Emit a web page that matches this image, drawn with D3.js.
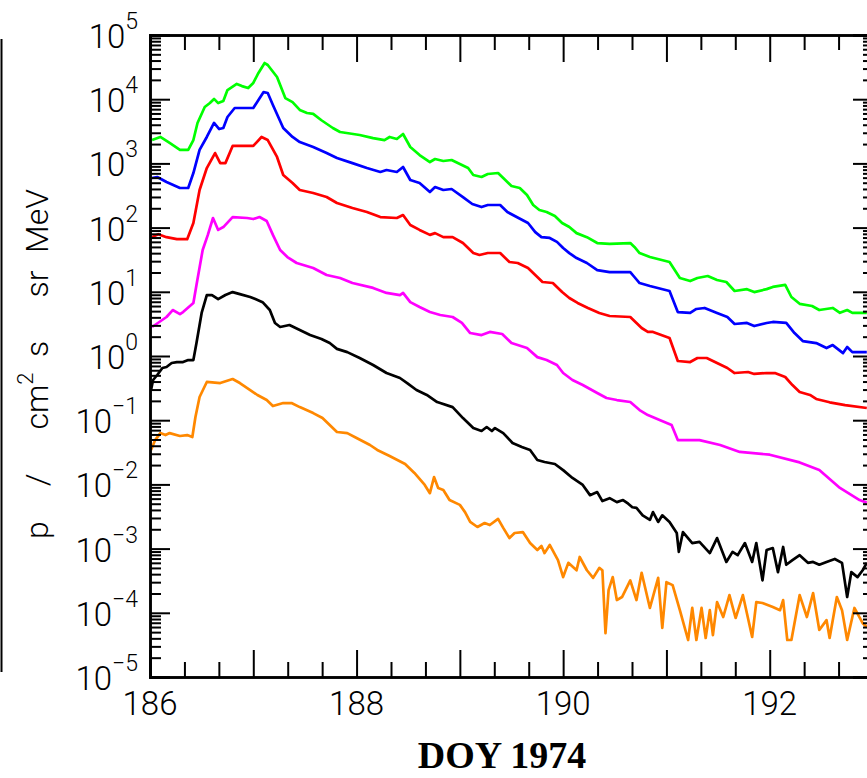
<!DOCTYPE html>
<html>
<head>
<meta charset="utf-8">
<script src="https://cdn.jsdelivr.net/npm/d3@7"></script>
<style>
  html, body { margin: 0; padding: 0; background: #fff; }
  svg { display: block; }
</style>
</head>
<body>
<svg id="chart" width="867" height="778"></svg>
<script>
// ---------------- DATA (DOY 1974, flux p/(cm2 s sr MeV)) ----------------
const xTickLabels = [186, 188, 190, 192];
const yTickExponents = [5, 4, 3, 2, 1, 0, -1, -2, -3, -4, -5];
const seriesColors = ["#00ff00", "#0000ff", "#ff0000", "#ff00ff", "#000000", "#ff8800"];

const green = [[186.02,2310],[186.10,2580],[186.19,2080],[186.29,1620],[186.37,1620],[186.42,2310],[186.46,4260],[186.53,7550],[186.58,8730],[186.62,10100],[186.66,8700],[186.71,9400],[186.75,13900],[186.84,17300],[186.89,16000],[186.95,14900],[187.00,17900],[187.05,25600],[187.11,36600],[187.14,34100],[187.23,22200],[187.31,10400],[187.38,9000],[187.45,6800],[187.52,6100],[187.58,5900],[187.66,4700],[187.77,3560],[187.84,3080],[188.03,2770],[188.16,2480],[188.27,2310],[188.32,2580],[188.39,2400],[188.45,2870],[188.52,1800],[188.61,1350],[188.71,1050],[188.76,1170],[188.84,1090],[188.92,1130],[189.02,944],[189.08,847],[189.13,659],[189.21,614],[189.27,684],[189.37,708],[189.42,592],[189.50,445],[189.58,414],[189.65,322],[189.71,225],[189.77,188],[189.84,175],[189.92,152],[189.99,118],[190.06,102],[190.13,82],[190.23,71],[190.33,57.5],[190.45,55.6],[190.65,57.5],[190.69,49.9],[190.74,40.2],[190.84,34.8],[191.03,29.1],[191.13,16.4],[191.23,14.7],[191.30,16.4],[191.40,17.6],[191.49,15.3],[191.58,14.2],[191.66,10.3],[191.78,11.0],[191.85,9.9],[191.97,11.0],[192.03,11.9],[192.15,12.8],[192.21,8.3],[192.29,6.5],[192.41,6.0],[192.48,5.2],[192.61,5.6],[192.68,4.7],[192.75,5.2],[192.80,4.7],[192.94,4.7]];

const blue = [[186.02,592],[186.07,614],[186.16,513],[186.29,414],[186.37,414],[186.42,708],[186.48,1620],[186.55,2580],[186.62,4260],[186.67,3430],[186.71,3560],[186.75,5280],[186.82,7300],[187.00,7300],[187.05,9700],[187.10,12900],[187.14,12500],[187.19,8100],[187.29,3560],[187.38,2580],[187.45,2150],[187.58,1800],[187.71,1450],[187.81,1210],[187.96,1010],[188.10,847],[188.23,735],[188.29,789],[188.39,735],[188.45,879],[188.52,551],[188.61,495],[188.71,358],[188.76,429],[188.84,385],[188.92,399],[189.03,299],[189.12,233],[189.21,209],[189.27,225],[189.39,225],[189.46,175],[189.55,146],[189.66,118],[189.73,85],[189.79,71],[189.87,69],[189.94,60],[190.00,48],[190.06,40],[190.13,33.6],[190.23,28.1],[190.33,21.8],[190.45,20.3],[190.65,20.3],[190.69,17.0],[190.74,13.7],[190.84,12.3],[191.03,10.3],[191.11,4.84],[191.23,4.68],[191.29,5.4],[191.37,5.6],[191.49,4.68],[191.59,4.05],[191.66,3.15],[191.78,3.27],[191.85,2.93],[191.97,3.27],[192.03,3.39],[192.16,3.27],[192.24,2.28],[192.32,1.71],[192.45,1.59],[192.55,1.33],[192.61,1.48],[192.71,1.11],[192.75,1.38],[192.80,1.15],[192.94,1.15]];

const red = [[186.02,71],[186.08,79],[186.16,71],[186.26,66],[186.36,66],[186.42,118],[186.48,385],[186.55,847],[186.63,1450],[186.68,1010],[186.73,1010],[186.80,1870],[187.00,1870],[187.08,2580],[187.14,2310],[187.23,1260],[187.29,659],[187.38,495],[187.45,385],[187.58,346],[187.71,300],[187.81,242],[187.96,202],[188.10,175],[188.23,146],[188.39,141],[188.45,157],[188.52,110],[188.61,92],[188.71,77],[188.76,82],[188.84,71],[188.93,71],[189.03,57.5],[189.13,40.2],[189.19,37.4],[189.27,40.2],[189.39,40.2],[189.48,29.1],[189.56,28.1],[189.66,23.5],[189.75,17.0],[189.80,14.2],[189.90,13.7],[189.99,9.9],[190.06,8.0],[190.14,6.7],[190.24,5.6],[190.35,4.68],[190.45,4.2],[190.65,4.05],[190.71,3.27],[190.76,2.73],[190.82,2.37],[190.87,2.37],[191.03,1.91],[191.11,0.835],[191.23,0.805],[191.30,0.93],[191.39,0.93],[191.49,0.778],[191.59,0.65],[191.66,0.543],[191.79,0.563],[191.85,0.525],[191.97,0.543],[192.05,0.543],[192.15,0.471],[192.22,0.353],[192.29,0.275],[192.39,0.247],[192.45,0.214],[192.58,0.19],[192.73,0.172],[192.94,0.155]];

const magenta = [[186.02,2.83],[186.16,4.05],[186.22,5.2],[186.29,4.5],[186.32,4.84],[186.42,6.7],[186.45,12.8],[186.51,44.8],[186.56,77],[186.61,141],[186.66,92],[186.71,102],[186.80,146],[186.94,141],[187.00,136],[187.06,146],[187.13,127],[187.19,77],[187.26,44.8],[187.33,34.8],[187.42,28.1],[187.58,23.5],[187.71,18.3],[187.84,16.4],[187.96,13.7],[188.16,11.5],[188.29,9.6],[188.42,8.9],[188.45,9.6],[188.52,6.9],[188.61,5.8],[188.71,4.84],[188.81,4.35],[188.93,4.05],[189.02,3.27],[189.10,2.28],[189.21,2.12],[189.29,2.37],[189.41,2.2],[189.50,1.59],[189.65,1.33],[189.75,0.96],[189.84,0.865],[189.94,0.724],[190.00,0.543],[190.09,0.423],[190.19,0.353],[190.33,0.265],[190.42,0.222],[190.52,0.206],[190.65,0.192],[190.74,0.144],[190.82,0.12],[190.94,0.1],[191.05,0.084],[191.11,0.049],[191.32,0.049],[191.52,0.041],[191.71,0.032],[192.00,0.029],[192.29,0.022],[192.48,0.0167],[192.68,0.0088],[192.87,0.0057],[192.94,0.0052]];

const black = [[186.01,0.295],[186.03,0.423],[186.07,0.506],[186.12,0.65],[186.16,0.674],[186.21,0.778],[186.26,0.805],[186.32,0.805],[186.37,0.865],[186.42,0.865],[186.45,1.59],[186.50,4.68],[186.55,8.9],[186.60,8.9],[186.66,7.7],[186.73,8.9],[186.80,9.9],[186.87,9.2],[186.97,8.3],[187.02,7.7],[187.09,6.9],[187.16,5.2],[187.21,3.27],[187.26,2.83],[187.35,3.04],[187.45,2.54],[187.55,2.12],[187.66,1.84],[187.74,1.59],[187.81,1.29],[187.91,1.15],[188.03,0.93],[188.16,0.724],[188.29,0.543],[188.42,0.454],[188.49,0.379],[188.58,0.295],[188.68,0.247],[188.78,0.192],[188.81,0.185],[188.93,0.16],[189.03,0.108],[189.13,0.0755],[189.21,0.0679],[189.26,0.0783],[189.31,0.0679],[189.34,0.0755],[189.42,0.063],[189.51,0.0442],[189.60,0.0383],[189.68,0.0344],[189.75,0.024],[189.82,0.0223],[189.92,0.0208],[190.00,0.0167],[190.09,0.0126],[190.19,0.0098],[190.26,0.0068],[190.33,0.0076],[190.38,0.0055],[190.45,0.0061],[190.52,0.0053],[190.58,0.0057],[190.63,0.0050],[190.67,0.0044],[190.71,0.0043],[190.77,0.0033],[190.84,0.0028],[190.87,0.0037],[190.92,0.0026],[190.96,0.0033],[191.03,0.0026],[191.10,0.00175],[191.12,0.00089],[191.16,0.00181],[191.25,0.00122],[191.32,0.00127],[191.42,0.00085],[191.49,0.00146],[191.58,0.00062],[191.64,0.00089],[191.69,0.00079],[191.76,0.00122],[191.83,0.00062],[191.87,0.00122],[191.93,0.00032],[191.97,0.00095],[192.03,0.00102],[192.08,0.00043],[192.13,0.00106],[192.16,0.00056],[192.22,0.00066],[192.29,0.00079],[192.37,0.0006],[192.42,0.00062],[192.48,0.00056],[192.55,0.00062],[192.63,0.00069],[192.70,0.0006],[192.75,0.000176],[192.79,0.00043],[192.85,0.00036],[192.90,0.00046],[192.94,0.0006]];

const orange = [[186.01,0.0344],[186.05,0.049],[186.10,0.063],[186.15,0.0587],[186.19,0.063],[186.29,0.0567],[186.36,0.0587],[186.41,0.0547],[186.44,0.112],[186.48,0.23],[186.55,0.394],[186.68,0.379],[186.77,0.423],[186.80,0.438],[186.87,0.379],[186.97,0.295],[187.04,0.247],[187.13,0.206],[187.19,0.166],[187.29,0.185],[187.37,0.185],[187.45,0.16],[187.58,0.129],[187.67,0.108],[187.74,0.084],[187.81,0.0655],[187.91,0.063],[188.00,0.0528],[188.13,0.0411],[188.20,0.0344],[188.32,0.0277],[188.47,0.0208],[188.56,0.0151],[188.66,0.0098],[188.71,0.0073],[188.75,0.013],[188.79,0.0088],[188.84,0.0082],[188.90,0.0057],[189.00,0.0048],[189.05,0.0037],[189.10,0.0026],[189.17,0.00217],[189.24,0.0025],[189.29,0.00233],[189.37,0.0029],[189.42,0.0021],[189.48,0.00146],[189.53,0.00175],[189.61,0.00181],[189.68,0.00122],[189.75,0.00095],[189.79,0.0011],[189.82,0.00085],[189.87,0.00114],[189.95,0.00066],[190.00,0.00036],[190.05,0.0006],[190.13,0.00046],[190.16,0.00074],[190.23,0.00046],[190.29,0.00035],[190.35,0.0005],[190.38,0.00046],[190.41,0.000048],[190.44,0.000226],[190.48,0.00036],[190.52,0.000158],[190.57,0.000176],[190.65,0.00032],[190.71,0.000158],[190.76,0.00042],[190.84,0.000119],[190.92,0.00035],[190.96,0.000058],[191.00,0.0003],[191.06,0.00027],[191.13,0.00011],[191.21,0.0000377],[191.25,0.000119],[191.29,0.0000377],[191.34,0.000119],[191.38,0.0000405],[191.42,0.00011],[191.45,0.000045],[191.49,0.000147],[191.55,0.000086],[191.61,0.000189],[191.67,0.000083],[191.74,0.000189],[191.83,0.000042],[191.87,0.000147],[191.93,0.000142],[192.03,0.000123],[192.10,0.00011],[192.13,0.000158],[192.17,0.0000377],[192.21,0.0000377],[192.29,0.000189],[192.36,0.000086],[192.42,0.000203],[192.48,0.000054],[192.55,0.000077],[192.58,0.0000405],[192.65,0.000176],[192.70,0.00011],[192.75,0.0000377],[192.82,0.000119],[192.90,0.000069],[192.94,0.00006]];

const seriesList = [green, blue, red, magenta, black, orange];

// ---------------- LAYOUT ----------------
const svg = d3.select("#chart");
const L = 150, R = 873, T = 35, B = 677;

const x = d3.scaleLinear().domain([186, 193]).range([L, R]);
const y = d3.scaleLog().domain([1e-5, 1e5]).range([B, T]);

const labelFont = "Roboto, 'Liberation Sans', Arial, sans-serif";
const labelWeight = 300;

// clip
svg.append("defs").append("clipPath").attr("id", "clip")
  .append("rect").attr("x", L).attr("y", T).attr("width", R - L).attr("height", B - T);

// lines
const line = d3.line().x(d => x(d[0])).y(d => y(d[1]));
svg.append("g").attr("clip-path", "url(#clip)")
  .selectAll("path").data(seriesList).join("path")
  .attr("d", line)
  .attr("fill", "none")
  .attr("stroke", (d, i) => seriesColors[i])
  .attr("stroke-width", 2.7)
  .attr("stroke-linejoin", "round");

// ---------------- AXES ----------------
const axisColor = "#000";
const xMinor = d3.range(0, 21).map(i => 186 + i / 3).filter(v => Math.abs(v - Math.round(v)) > 1e-6);
const xMajor = d3.range(186, 194);

function styleAxis(g) {
  g.selectAll("path.domain").attr("stroke", axisColor).attr("stroke-width", 2.5);
  g.selectAll(".tick line").attr("stroke", axisColor).attr("stroke-width", 2);
}
svg.append("g").attr("transform", `translate(0,${B})`)
  .call(d3.axisBottom(x).tickValues(xMajor).tickSize(-27).tickFormat("")).call(styleAxis);
svg.append("g").attr("transform", `translate(0,${B})`)
  .call(d3.axisBottom(x).tickValues(xMinor).tickSize(-15).tickFormat("")).call(styleAxis);
svg.append("g").attr("transform", `translate(0,${T})`)
  .call(d3.axisTop(x).tickValues(xMajor).tickSize(-27).tickFormat("")).call(styleAxis);
svg.append("g").attr("transform", `translate(0,${T})`)
  .call(d3.axisTop(x).tickValues(xMinor).tickSize(-15).tickFormat("")).call(styleAxis);

const yMajor = yTickExponents.map(e => Math.pow(10, e));
const yMinor = [];
for (let e = -5; e < 5; e++) for (let m = 2; m <= 9; m++) yMinor.push(m * Math.pow(10, e));

svg.append("g").attr("transform", `translate(${L},0)`)
  .call(d3.axisLeft(y).tickValues(yMajor).tickSize(-20).tickFormat("")).call(styleAxis);
svg.append("g").attr("transform", `translate(${L},0)`)
  .call(d3.axisLeft(y).tickValues(yMinor).tickSize(-11).tickFormat("")).call(styleAxis);
svg.append("g").attr("transform", `translate(${R},0)`)
  .call(d3.axisRight(y).tickValues(yMajor).tickSize(-20).tickFormat("")).call(styleAxis);
svg.append("g").attr("transform", `translate(${R},0)`)
  .call(d3.axisRight(y).tickValues(yMinor).tickSize(-10).tickFormat("")).call(styleAxis);

// x tick labels
svg.append("g").selectAll("text").data(xTickLabels).join("text")
  .attr("x", d => x(d)).attr("y", B + 38)
  .attr("text-anchor", "middle")
  .attr("font-family", labelFont).attr("font-weight", labelWeight).attr("font-size", 33)
  .attr("fill", "#000")
  .text(d => d);

// y tick labels 10^n
const yl = svg.append("g").selectAll("text").data(yTickExponents).join("text")
  .attr("x", 138).attr("y", d => y(Math.pow(10, d)) + 13)
  .attr("text-anchor", "end")
  .attr("font-family", labelFont).attr("font-weight", labelWeight).attr("fill", "#000");
yl.append("tspan").attr("font-size", 33).text("10");
yl.append("tspan").attr("font-size", 23).attr("dy", -19)
  .text(d => (d < 0 ? "\u2212" + Math.abs(d) : "" + d));

// y axis title, word by word (rotated)
const titleWords = [
  { text: "p", at: 530 },
  { text: "/", at: 480 },
  { text: "cm", sup: "2", at: 401 },
  { text: "s", at: 349 },
  { text: "sr", at: 284 },
  { text: "MeV", at: 221 }
];
const tw = svg.append("g").selectAll("text").data(titleWords).join("text")
  .attr("transform", d => `translate(48,${d.at}) rotate(-90)`)
  .attr("text-anchor", "middle")
  .attr("font-family", labelFont).attr("font-weight", labelWeight)
  .attr("font-size", 32).attr("fill", "#000");
tw.append("tspan").text(d => d.text);
tw.filter(d => d.sup).append("tspan").attr("font-size", 22).attr("dy", -15).text(d => d.sup);

// x axis title
svg.append("text")
  .attr("x", 502).attr("y", 768)
  .attr("text-anchor", "middle")
  .attr("font-family", "'Liberation Serif', 'Times New Roman', serif")
  .attr("font-weight", "bold").attr("font-size", 38).attr("fill", "#000")
  .text("DOY 1974");

// left edge rule
svg.append("line").attr("x1", 1.5).attr("x2", 1.5).attr("y1", 39).attr("y2", 672)
  .attr("stroke", "#000").attr("stroke-width", 2);
</script>
</body>
</html>
